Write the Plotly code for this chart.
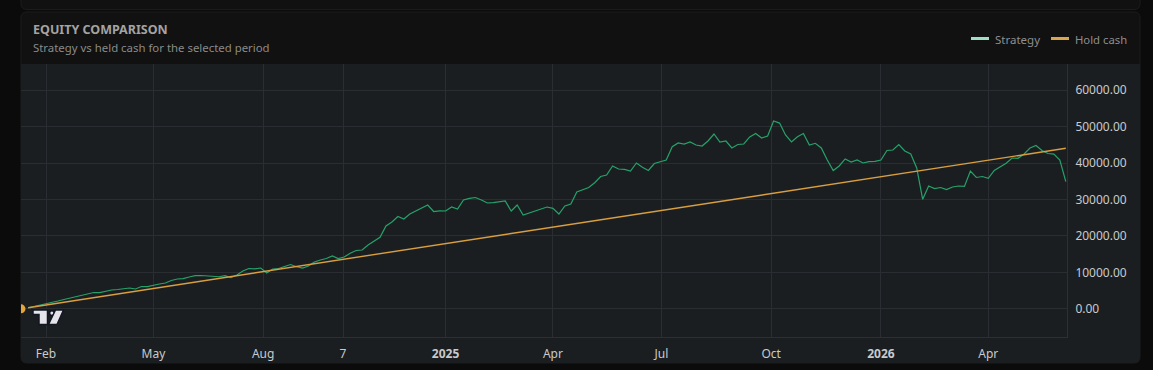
import pandas as pd
import plotly.graph_objects as go

# ---------------- data ----------------
strategy_values = [
    300, 630, 1040, 1320, 1680, 2140, 2550, 2970, 3320, 3650,
    4200, 4480, 4420, 4890, 5160, 5300, 5570, 5710, 5440, 6120,
    6080, 6540, 6810, 7080, 7770, 8180, 8270, 8730, 9090, 9140,
    9060, 9010, 8810, 9090, 8600, 9280, 10380, 11070, 10980, 11200,
    9830, 10930, 11070, 11620, 12160, 11560, 11200, 11750, 12850, 13400,
    13810, 14500, 13810, 14220, 15240, 16010, 16150, 17520, 18480, 19630,
    22740, 23840, 25350, 24660, 26030, 26860, 27490, 28500, 26720, 26900,
    26860, 27950, 27400, 29880, 30340, 30560, 29880, 29050, 29140, 29330,
    29600, 26860, 28500, 25760, 26310, 26900, 27400, 27950, 27600, 26030,
    28230, 28780, 32070, 32760, 33310, 34630, 36330, 36740, 39210, 38390,
    38300, 37840, 40040, 38860, 37980, 39900, 40390, 40860, 44510, 45530,
    45250, 45800, 44980, 44700, 46080, 48000, 45800, 46080, 44160, 45120,
    45250, 47180, 48140, 46900, 47450, 51570, 51000, 47730, 45800, 47260,
    48140, 44980, 45450, 44160, 40860, 37980, 39210, 41140, 40310, 40860,
    40040, 40390, 40500, 40860, 43470, 43610, 45120, 43330, 42510, 38670,
    30070, 33720, 33030, 33310, 32760, 33450, 33720, 33600, 37840, 36060,
    36330, 35840, 37980, 39080, 39950, 41410, 41330, 42510, 44160, 44840,
    43470, 42650, 42500, 40860, 34900,
]
strategy_start = "2024-01-17"
strategy_step = "5D"

hold_dates = ["2024-01-17", "2026-06-05"]
hold_values = [300, 44070]

start_marker_dates = ["2024-01-11"]
start_marker_values = [0]

x_tick_dates = ["2024-02-01", "2024-05-01", "2024-08-01", "2024-10-07", "2025-01-01",
                "2025-04-01", "2025-07-01", "2025-10-01", "2026-01-01", "2026-04-01"]
x_tick_labels = ["Feb", "May", "Aug", "7", "<b>2025</b>", "Apr", "Jul", "Oct", "<b>2026</b>", "Apr"]
y_tick_values = [0, 10000, 20000, 30000, 40000, 50000, 60000]

x_range = ["2024-01-11", "2026-06-06"]
y_range = [-7740, 67220]

strategy_dates = pd.date_range(strategy_start, periods=len(strategy_values), freq=strategy_step)

# ---------------- geometry helpers ----------------
W, H = 1153, 370
ML, MR, MT, MB = 21, W - 1067, 64, H - 337
PW, PH = W - ML - MR, H - MT - MB


def px(x):
    return (x - ML) / PW


def py(y):
    return (H - MB - y) / PH


def rrect(x0, y0, x1, y1, r, top=True, bottom=True):
    rt = r if top else 0
    rb = r if bottom else 0
    pts = []
    pts.append(f"M {px(x0 + rt)} {py(y0)}")
    pts.append(f"L {px(x1 - rt)} {py(y0)}")
    pts.append(f"Q {px(x1)} {py(y0)} {px(x1)} {py(y0 + rt)}")
    pts.append(f"L {px(x1)} {py(y1 - rb)}")
    pts.append(f"Q {px(x1)} {py(y1)} {px(x1 - rb)} {py(y1)}")
    pts.append(f"L {px(x0 + rb)} {py(y1)}")
    pts.append(f"Q {px(x0)} {py(y1)} {px(x0)} {py(y1 - rb)}")
    pts.append(f"L {px(x0)} {py(y0 + rt)}")
    pts.append(f"Q {px(x0)} {py(y0)} {px(x0 + rt)} {py(y0)}")
    pts.append("Z")
    return " ".join(pts)


def poly(points):
    s = f"M {px(points[0][0])} {py(points[0][1])} "
    s += " ".join(f"L {px(a)} {py(b)}" for a, b in points[1:])
    return s + " Z"


FONT = "Noto Sans"
CARD = "#111111"
CHART_BG = "#1b1e21"
GRID = "#2a2e33"
OUTER = "#0b0b0b"

fig = go.Figure()

fig.add_trace(go.Scatter(
    x=strategy_dates, y=strategy_values, mode="lines", name="Strategy",
    line=dict(color="#26a269", width=1.2), hoverinfo="skip", showlegend=False,
))
fig.add_trace(go.Scatter(
    x=pd.to_datetime(hold_dates), y=hold_values, mode="lines", name="Hold cash",
    line=dict(color="#d99e3f", width=1.4), hoverinfo="skip", showlegend=False,
))
fig.add_trace(go.Scatter(
    x=pd.to_datetime(start_marker_dates), y=start_marker_values, mode="markers",
    marker=dict(color="#e0a63f", size=9), cliponaxis=True, hoverinfo="skip", showlegend=False,
))

shapes = []
shapes.append(dict(type="path", xref="paper", yref="paper", layer="below",
                   path=rrect(21, -20, 1140, 9.5, 6), fillcolor=CARD,
                   line=dict(color="#1c1c1c", width=1)))
shapes.append(dict(type="path", xref="paper", yref="paper", layer="below",
                   path=rrect(21, 12, 1140, 363, 6), fillcolor=CARD,
                   line=dict(color="#1c1c1c", width=1)))
shapes.append(dict(type="path", xref="paper", yref="paper", layer="below",
                   path=rrect(21, 64, 1140, 363, 6, top=False), fillcolor=CHART_BG,
                   line=dict(width=0)))
shapes.append(dict(type="line", xref="paper", yref="paper", layer="above",
                   x0=px(971), x1=px(989), y0=py(38.5), y1=py(38.5),
                   line=dict(color="#9edfc4", width=3)))
shapes.append(dict(type="line", xref="paper", yref="paper", layer="above",
                   x0=px(1051), x1=px(1069), y0=py(38.5), y1=py(38.5),
                   line=dict(color="#d9a54e", width=3)))
logo_line = dict(color="#131722", width=1.5)
logo_fill = "#e4e4ea"
shapes.append(dict(type="path", xref="paper", yref="paper", layer="above",
                   path=poly([(33, 310), (47.5, 310), (47.5, 324.5), (39, 324.5), (39, 314.5), (33, 314.5)]),
                   fillcolor=logo_fill, line=logo_line))
shapes.append(dict(type="circle", xref="paper", yref="paper", layer="above",
                   x0=px(49.6), x1=px(54.2), y0=py(310.8), y1=py(315.4),
                   fillcolor=logo_fill, line=logo_line))
shapes.append(dict(type="path", xref="paper", yref="paper", layer="above",
                   path=poly([(55.5, 310), (63.5, 310), (57, 324.5), (48.5, 324.5)]),
                   fillcolor=logo_fill, line=logo_line))

annotations = [
    dict(text="<b>EQUITY COMPARISON</b>", x=px(31), y=py(29.5), xref="paper", yref="paper",
         xanchor="left", yanchor="middle", showarrow=False,
         font=dict(family=FONT, size=12.5, color="#a3a3a3")),
    dict(text="Strategy vs held cash for the selected period", x=px(31), y=py(47.5),
         xref="paper", yref="paper", xanchor="left", yanchor="middle", showarrow=False,
         font=dict(family=FONT, size=11.4, color="#8a8a8a")),
    dict(text="Strategy", x=px(993), y=py(39), xref="paper", yref="paper",
         xanchor="left", yanchor="middle", showarrow=False,
         font=dict(family=FONT, size=11.5, color="#8e8e8e")),
    dict(text="Hold cash", x=px(1073), y=py(39), xref="paper", yref="paper",
         xanchor="left", yanchor="middle", showarrow=False,
         font=dict(family=FONT, size=11.3, color="#8e8e8e")),
]

fig.update_layout(
    width=W, height=H,
    margin=dict(l=ML, r=MR, t=MT, b=MB, pad=0, autoexpand=False),
    paper_bgcolor=OUTER, plot_bgcolor=CHART_BG,
    font=dict(family=FONT, color="#c8cacd", size=12),
    showlegend=False,
    shapes=shapes, annotations=annotations,
    xaxis=dict(
        type="date", range=x_range, tickvals=x_tick_dates, ticktext=x_tick_labels,
        showgrid=True, gridcolor=GRID, gridwidth=1, zeroline=False,
        showline=True, linecolor="#2b2f36", linewidth=1, ticks="",
        tickfont=dict(size=12, color="#c8cacd"), ticklabelstandoff=6,
        fixedrange=True, automargin=False,
    ),
    yaxis=dict(
        side="right", range=y_range, tickvals=y_tick_values, tickformat=".2f",
        showgrid=True, gridcolor=GRID, gridwidth=1, zeroline=False,
        showline=True, linecolor="#2b2f36", linewidth=1, ticks="",
        tickfont=dict(size=12, color="#c8cacd"), ticklabelstandoff=5,
        fixedrange=True, automargin=False,
    ),
)

fig.write_html("out.html", config={"displayModeBar": False})
